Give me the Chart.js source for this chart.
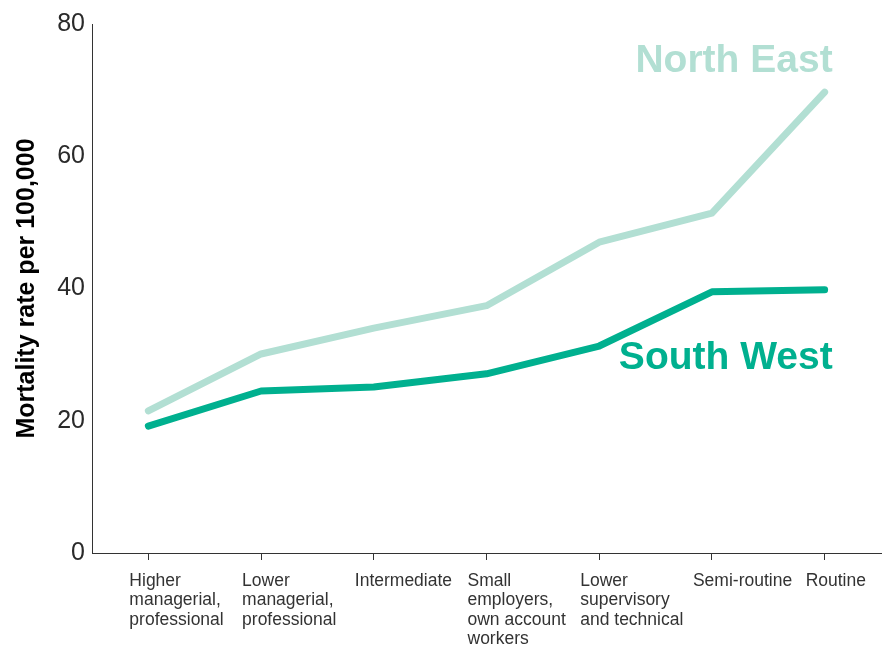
<!DOCTYPE html>
<html>
<head>
<meta charset="utf-8">
<script src="https://cdn.jsdelivr.net/npm/chart.js@4.4.1/dist/chart.umd.min.js"></script>
<style>
  html, body { margin: 0; padding: 0; background: #ffffff; }
  #wrap { width: 883px; height: 647px; position: relative; }
</style>
</head>
<body>
<div id="wrap"><canvas id="c" width="883" height="647"></canvas></div>
<script>
// ---- data ----
const categories = [
  ["Higher", "managerial,", "professional"],
  ["Lower", "managerial,", "professional"],
  ["Intermediate"],
  ["Small", "employers,", "own account", "workers"],
  ["Lower", "supervisory", "and technical"],
  ["Semi-routine"],
  ["Routine"]
];
const northEast = [21.5, 30.1, 34.0, 37.4, 47.0, 51.4, 69.7];
const southWest = [19.2, 24.5, 25.1, 27.1, 31.3, 39.5, 39.8];
const yTicks = [0, 20, 40, 60, 80];
const seriesNames = ["North East", "South West"];
const yTitle = "Mortality rate per 100,000";

const NE_COLOR = "#b2dfd3";
const SW_COLOR = "#00b08f";
const AXIS_COLOR = "#333333";
const FONT = "'Liberation Sans', Arial, Helvetica, sans-serif";

// draws the multi-line category labels left-aligned near each tick
const xLabelPlugin = {
  id: "xLabels",
  afterDraw(chart) {
    const ctx = chart.ctx;
    const xs = chart.scales.x;
    const top = chart.chartArea.bottom;
    ctx.save();
    ctx.fillStyle = AXIS_COLOR;
    ctx.font = "17.5px " + FONT;
    ctx.textAlign = "left";
    ctx.textBaseline = "alphabetic";
    categories.forEach((lines, i) => {
      const x = xs.getPixelForTick(i) - 19;
      lines.forEach((ln, j) => {
        ctx.fillText(ln, x, top + 33 + j * 19.3);
      });
    });
    ctx.restore();
  }
};

// draws the series names next to the line ends
const seriesLabelPlugin = {
  id: "seriesLabels",
  afterDatasetsDraw(chart) {
    const ctx = chart.ctx;
    ctx.save();
    ctx.font = "bold 39px " + FONT;
    ctx.textAlign = "right";
    ctx.textBaseline = "alphabetic";
    const offsets = [-20, 79];
    chart.data.datasets.forEach((ds, i) => {
      const meta = chart.getDatasetMeta(i);
      const last = meta.data[meta.data.length - 1];
      ctx.fillStyle = ds.borderColor;
      ctx.fillText(ds.label, last.x + 8, last.y + offsets[i]);
    });
    ctx.restore();
  }
};

new Chart(document.getElementById("c"), {
  type: "line",
  data: {
    labels: categories.map(c => c.join(" ")),
    datasets: [
      {
        label: seriesNames[0],
        data: northEast,
        borderColor: NE_COLOR,
        backgroundColor: NE_COLOR,
        borderWidth: 7,
        pointRadius: 0,
        borderCapStyle: "round",
        borderJoinStyle: "round",
        tension: 0
      },
      {
        label: seriesNames[1],
        data: southWest,
        borderColor: SW_COLOR,
        backgroundColor: SW_COLOR,
        borderWidth: 7,
        pointRadius: 0,
        borderCapStyle: "round",
        borderJoinStyle: "round",
        tension: 0
      }
    ]
  },
  options: {
    responsive: false,
    animation: false,
    devicePixelRatio: 1,
    layout: { padding: { top: 24, right: 2, bottom: 87, left: 0 } },
    plugins: {
      legend: { display: false },
      tooltip: { enabled: false }
    },
    scales: {
      x: {
        offset: true,
        grid: {
          offset: false,
          drawOnChartArea: false,
          drawTicks: true,
          tickLength: 7,
          tickColor: AXIS_COLOR,
          tickWidth: 1
        },
        border: { display: true, color: AXIS_COLOR, width: 1 },
        ticks: { display: false }
      },
      y: {
        min: yTicks[0],
        max: yTicks[yTicks.length - 1],
        afterFit(scale) { scale.width = 92; },
        afterBuildTicks(scale) { scale.ticks = yTicks.map(v => ({ value: v })); },
        grid: { drawOnChartArea: false, drawTicks: false },
        border: { display: true, color: AXIS_COLOR, width: 1 },
        ticks: {
          color: "#2a2a2a",
          padding: 7,
          font: { family: FONT, size: 25, weight: "normal" }
        },
        title: {
          display: true,
          text: yTitle,
          color: "#000000",
          padding: { top: 12, bottom: 0 },
          font: { family: FONT, size: 25, weight: "bold" }
        }
      }
    }
  },
  plugins: [xLabelPlugin, seriesLabelPlugin]
});
</script>
</body>
</html>
